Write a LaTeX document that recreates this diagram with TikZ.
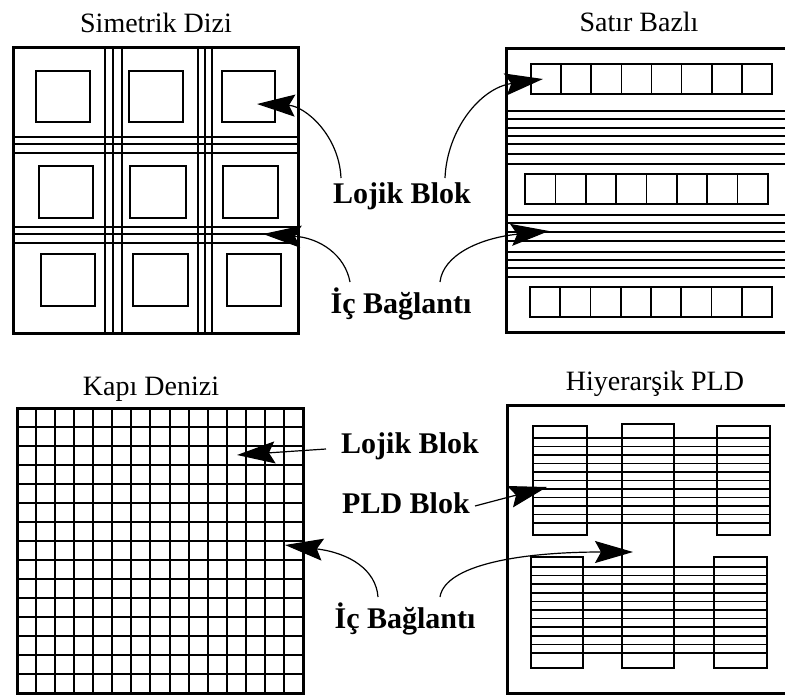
\documentclass[tikz,border=0pt]{standalone}
\usepackage{fontspec}
\setmainfont{Liberation Serif}
\usetikzlibrary{arrows.meta,calc}
\begin{document}
\begin{tikzpicture}[x=1pt,y=-1pt,
  frame/.style={line width=3pt},
  thinline/.style={line width=1.6pt},
  gridline/.style={line width=2pt},
  title/.style={font=\fontsize{28}{30}\selectfont, anchor=base, inner sep=0pt},
  lbl/.style={font=\bfseries\fontsize{30}{32}\selectfont, anchor=base, inner sep=0pt},
  arr/.style={line width=1.2pt, -{Stealth[length=38pt,width=22pt,inset=6pt]}},
]
\useasboundingbox (0,0) rectangle (785,696);
\clip (0,0) rectangle (785,696);
\fill[white] (0,0) rectangle (785,696);

% ---------- Simetrik Dizi ----------
\node[title] (t1) at (156,32) {Simetrik Dizi};
\foreach \x in {105,113,122,198,205,212} \draw[thinline] (\x,47) -- (\x,333);
\foreach \y in {137,144,153,227,234,243} \draw[thinline] (13,\y) -- (298,\y);
\foreach \a/\b in {36/90,129/183,222/275} \draw[thinline] (\a,71) rectangle (\b,122);
\foreach \a/\b in {39/93,130/186,223/278} \draw[thinline] (\a,166) rectangle (\b,218);
\foreach \a/\b in {41/95,133/188,227/281} \draw[thinline] (\a,254) rectangle (\b,306);
\draw[frame] (13,47) rectangle (298,333);

% ---------- Satir Bazli ----------
\node[title] (t2) at (639,31) {Satır Bazlı};
\foreach \y in {111,119,128,136,144,154,164,215,223,232,241,252,260,268,277}
  \draw[thinline] (506,\y) -- (790,\y);
\foreach \xa/\xb/\ya/\yb in {531/772/64/94, 525/768/174/204, 530/772/287/317}{
  \draw[thinline] (\xa,\ya) rectangle (\xb,\yb);
  \foreach \k in {1,...,7}
    \draw[thinline] ({\xa+\k*(\xb-\xa)/8},\ya) -- ({\xa+\k*(\xb-\xa)/8},\yb);
}
\draw[frame] (790,48) -- (506,48) -- (506,332) -- (790,332);

% ---------- Kapi Denizi ----------
\node[title] (t3) at (151,395) {Kapı Denizi};
\foreach \k in {1,...,14}{
  \draw[gridline] ({17+\k*286/15},408) -- ({17+\k*286/15},693);
  \draw[gridline] (17,{408+\k*285/15}) -- (303,{408+\k*285/15});
}
\draw[frame] (17,408) rectangle (303,693);

% ---------- Hiyerarsik PLD ----------
\node[title] (t4) at (655,390) {Hiyerarşik PLD};
\foreach \k in {0,...,10}{
  \draw[thinline] (533,{438+\k*8.5}) -- (770,{438+\k*8.5});
  \draw[thinline] (531,{567+\k*8.6}) -- (767,{567+\k*8.6});
}
\draw[thinline] (533,426) rectangle (587,535);
\draw[thinline] (622,424) rectangle (674,668);
\draw[thinline] (717,426) rectangle (770,535);
\draw[thinline] (531,557) rectangle (583,668);
\draw[thinline] (714,557) rectangle (767,668);
\draw[frame] (790,405) -- (507,405) -- (507,693) -- (790,693);

% ---------- labels ----------
\node[lbl] (lbt) at (402,203) {Lojik Blok};
\node[lbl] (ict) at (401,313) {İç Bağlantı};
\node[lbl] (lbb) at (410,453) {Lojik Blok};
\node[lbl] (pld) at (406,513) {PLD Blok};
\node[lbl] (icb) at (405,628) {İç Bağlantı};

% ---------- arrow targets ----------
\coordinate (tA1) at (257,104);
\coordinate (tA2) at (543,79);
\coordinate (tA3) at (263,234);
\coordinate (tA4) at (549,231);
\coordinate (tB1) at (237,455);
\coordinate (tB2) at (547,487);
\coordinate (tB3) at (285,545);
\coordinate (tB4) at (633,552);

% ---------- arrows ----------
\draw[arr] ($(lbt.base)+(-61,-25)$) .. controls (339,135) and (305,106) .. (tA1);
\draw[arr] ($(lbt.base)+(43,-25)$) .. controls (447,130) and (480,88) .. (tA2);
\draw[arr] ($(ict.base)+(-51,-31)$) .. controls (345,255) and (320,238) .. (tA3);
\draw[arr] ($(ict.base)+(39,-31)$) .. controls (443,255) and (480,238) .. (tA4);
\draw[arr] ($(lbb.base)+(-84,-4)$) -- (tB1);
\draw[arr] ($(pld.base)+(69,-7)$) -- (tB2);
\draw[arr] ($(icb.base)+(-27,-31)$) .. controls (376,570) and (350,553) .. (tB3);
\draw[arr] ($(icb.base)+(35,-31)$) .. controls (445,565) and (520,552) .. (tB4);
\end{tikzpicture}
\end{document}
